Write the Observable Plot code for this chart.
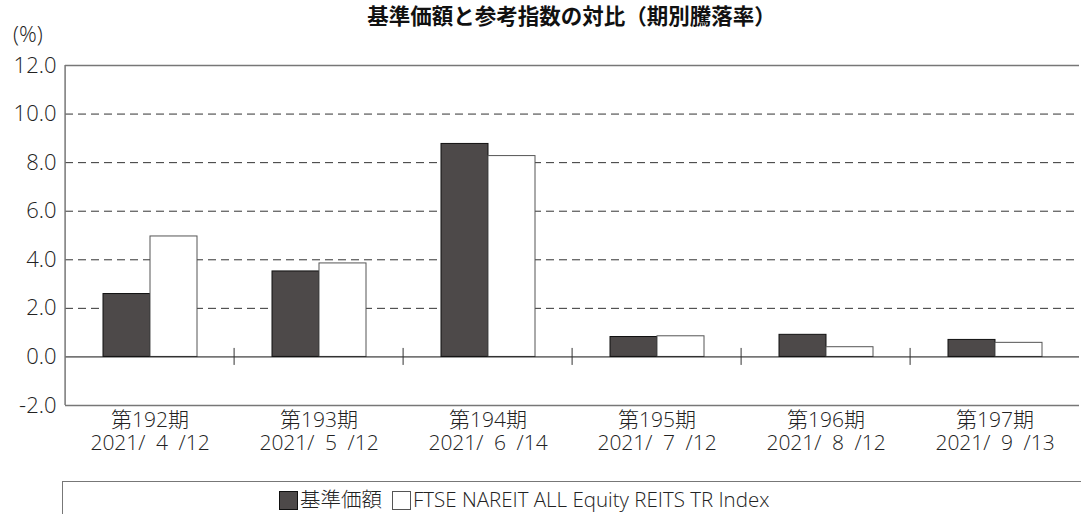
<!DOCTYPE html>
<html>
<head>
<meta charset="utf-8">
<script src="https://cdn.jsdelivr.net/npm/d3@7"></script>
<script src="https://cdn.jsdelivr.net/npm/@observablehq/plot@0.6"></script>
<style>
  html, body { margin: 0; padding: 0; background: #fff; }
  #wrap { position: relative; width: 1081px; height: 514px; overflow: hidden; font-family: "Open Sans", "Noto Sans CJK JP", sans-serif; font-weight: 300; color: #222; }
  #chart { position: absolute; left: 0; top: 0; }
  #title { position: absolute; left: 62px; width: 1019px; top: 1px; height: 28px; text-align: center; font-family: "Noto Sans CJK JP", sans-serif; font-weight: bold; font-size: 21.5px; line-height: 28px; color: #111; }
  #unit { position: absolute; left: 13px; top: 22px; font-size: 22px; line-height: 1; }
  #legend { position: absolute; left: 62px; top: 481px; width: 1030px; height: 40px; border-top: 1.5px solid #777; border-left: 1.5px solid #777; }
  .item { position: absolute; top: 5px; font-size: 20.5px; line-height: 24px; white-space: nowrap; }
  .sw { display: inline-block; width: 19px; height: 19px; vertical-align: -3px; margin-right: 2px; box-sizing: border-box; }
  svg text { font-weight: 300; }
</style>
</head>
<body>
<div id="wrap">
  <div id="chart"></div>
  <div id="title">基準価額と参考指数の対比（期別騰落率）</div>
  <div id="unit">(%)</div>
  <div id="legend"></div>
</div>
<script>
const periods = ["第192期", "第193期", "第194期", "第195期", "第196期", "第197期"];
const dates = ["2021/\u20024\u2002/12", "2021/\u20025\u2002/12", "2021/\u20026\u2002/14", "2021/\u20027\u2002/12", "2021/\u20028\u2002/12", "2021/\u20029\u2002/13"];
const series = ["基準価額", "FTSE NAREIT ALL Equity REITS TR Index"];
const fundValues = [2.59, 3.52, 8.77, 0.82, 0.91, 0.70];
const indexValues = [4.96, 3.85, 8.27, 0.85, 0.40, 0.58];
const yTicks = [-2, 0, 2, 4, 6, 8, 10, 12];
const gridTicks = [2, 4, 6, 8, 10];
const seriesFill = ["#4d4949", "#ffffff"];
const seriesStroke = ["#111111", "#555555"];

const rows = [];
periods.forEach((p, i) => {
  rows.push({period: p, series: series[0], value: fundValues[i]});
  rows.push({period: p, series: series[1], value: indexValues[i]});
});
const dateOf = new Map(periods.map((p, i) => [p, dates[i]]));

const chart = Plot.plot({
  width: 1081,
  height: 514,
  marginTop: 65,
  marginBottom: 109,
  marginLeft: 62,
  marginRight: 0,
  style: {fontFamily: "'Open Sans', 'Noto Sans CJK JP', sans-serif", fontSize: "21px", color: "#222", background: "white", overflow: "visible"},
  fx: {domain: periods, padding: 0, label: null},
  x: {domain: series, axis: null, paddingInner: 0, paddingOuter: 0.77},
  y: {domain: [-2, 12], label: null},
  marks: [
    Plot.ruleY(gridTicks, {stroke: "#333", strokeDasharray: "8,5", strokeWidth: 1}),
    Plot.ruleY([12, -2], {stroke: "#777", strokeWidth: 1.5}),
    Plot.barY(rows.filter(d => d.series === series[0]), {fx: "period", x: "series", y: "value", fill: seriesFill[0], stroke: seriesStroke[0], strokeWidth: 1}),
    Plot.barY(rows.filter(d => d.series === series[1]), {fx: "period", x: "series", y: "value", fill: seriesFill[1], stroke: seriesStroke[1], strokeWidth: 1}),
    Plot.ruleY([0], {stroke: "#111", strokeWidth: 1}),
    Plot.ruleX(periods.slice(1), {fx: d => d, x: null, y1: -0.35, y2: 0.35, dx: -84.9, stroke: "#333", strokeWidth: 1}),
    Plot.ruleX(periods.slice(0, 1), {fx: d => d, x: null, y1: -2, y2: 12, dx: -84.9, stroke: "#777", strokeWidth: 1.5}),
    Plot.axisY({ticks: yTicks, tickFormat: d => d.toFixed(1), tickSize: 0, tickPadding: 9, fontSize: 22, fill: "#222"}),
    Plot.axisFx({anchor: "bottom", tickSize: 0, tickPadding: 6, lineHeight: 1.06, fontSize: 21, fill: "#222",
      tickFormat: d => `${d}\n${dateOf.get(d)}`, label: null})
  ]
});
document.getElementById("chart").appendChild(chart);

// legend built from series names
const legend = document.getElementById("legend");
const lefts = [216, 329];
series.forEach((s, i) => {
  const item = document.createElement("div");
  item.className = "item";
  item.style.left = lefts[i] + "px";
  const sw = document.createElement("span");
  sw.className = "sw";
  sw.style.background = seriesFill[i];
  sw.style.border = "1px solid " + seriesStroke[i];
  item.appendChild(sw);
  item.appendChild(document.createTextNode(s));
  legend.appendChild(item);
});
</script>
</body>
</html>
